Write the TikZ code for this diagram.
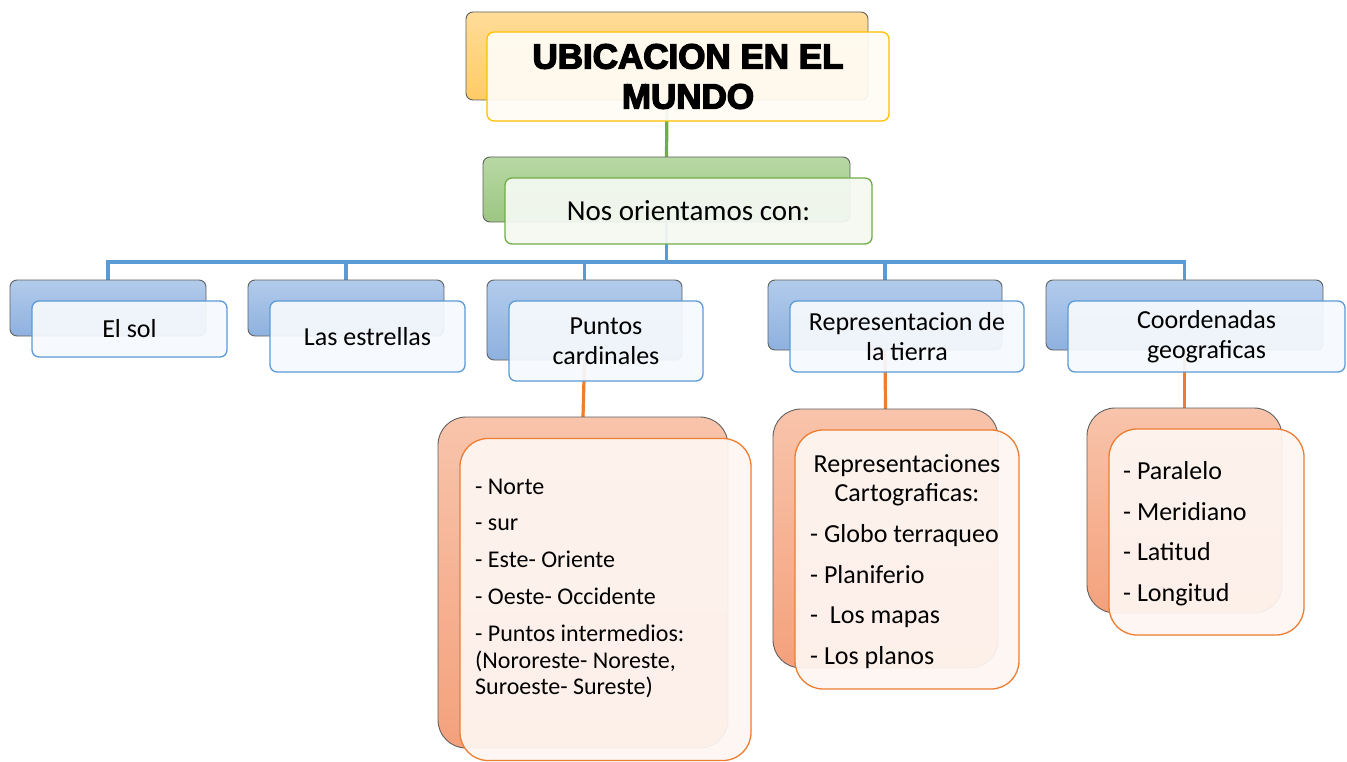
\documentclass[tikz,border=0pt]{standalone}
\usepackage{fontspec}
\setmainfont{Carlito}
\newfontfamily\titlefont{Liberation Sans}[BoldFeatures={FakeBold=4}]
\usetikzlibrary{backgrounds}
\definecolor{ttop}{HTML}{FFDC98}
\definecolor{tbot}{HTML}{FFCB66}
\definecolor{tline}{HTML}{FFC000}
\definecolor{tfill}{HTML}{FFFCF6}
\definecolor{gtop}{HTML}{B8D8A4}
\definecolor{gbot}{HTML}{9CC682}
\definecolor{gline}{HTML}{70AD47}
\definecolor{gfill}{HTML}{F5F9F2}
\definecolor{btop}{HTML}{B2CBEB}
\definecolor{bbot}{HTML}{8EB1DF}
\definecolor{bline}{HTML}{5B9BD5}
\definecolor{bfill}{HTML}{F6F9FD}
\definecolor{otop}{HTML}{F8C4AB}
\definecolor{obot}{HTML}{F4A17C}
\definecolor{oline}{HTML}{ED7D31}
\definecolor{ofill}{HTML}{FEF6F2}
\definecolor{backgray}{HTML}{606060}
\pgfdeclarelayer{backdrop}
\pgfdeclarelayer{links}
\pgfsetlayers{backdrop,links,main}
\tikzset{
  backbox/.style={draw=backgray, line width=0.9pt, rounded corners=7pt, inner sep=0pt, outer sep=0pt},
  frontbox/.style={line width=1.3pt, rounded corners=7pt, fill opacity=0.93, text opacity=1, align=center, inner sep=0pt, outer sep=0pt},
  titleback/.style={backbox, top color=ttop, bottom color=tbot},
  titlefront/.style={frontbox, draw=tline, fill=tfill, font=\titlefont\bfseries\fontsize{35}{40}\selectfont},
  greenback/.style={backbox, top color=gtop, bottom color=gbot},
  greenfront/.style={frontbox, draw=gline, fill=gfill, font=\fontsize{29}{32}\selectfont},
  blueback/.style={backbox, top color=btop, bottom color=bbot},
  bluefront/.style={frontbox, draw=bline, fill=bfill, font=\fontsize{26}{30}\selectfont},
  salmonback/.style={backbox, rounded corners=28pt, top color=otop, bottom color=obot},
  salmonfront/.style={frontbox, rounded corners=28pt, draw=oline, fill=ofill},
  itemA/.style={anchor=base west, inner sep=0pt, font=\fontsize{24}{27}\selectfont},
  itemB/.style={anchor=base west, inner sep=0pt, font=\fontsize{26}{29}\selectfont},
  itemBc/.style={anchor=base, inner sep=0pt, font=\fontsize{26}{29}\selectfont},
  bluelink/.style={draw=bline, line width=3.2pt},
  greenlink/.style={draw=gline, line width=3.2pt},
  orangelink/.style={draw=oline, line width=3.2pt},
}
\begin{document}
\begin{tikzpicture}[x=1pt,y=-1pt]
\begin{pgfonlayer}{backdrop}
\fill[white] (0,0) rectangle (1347,762);
\end{pgfonlayer}
\useasboundingbox (0,0) rectangle (1347,762);

% title
\node[titleback, minimum width=402pt, minimum height=88pt] (tb) at (667,56) {};
\node[titlefront, minimum width=402pt, minimum height=89pt] (tf) at (688,76.5) {UBICACION EN EL\\MUNDO};

% green
\node[greenback, minimum width=367pt, minimum height=65pt] (gb) at (666.5,189.5) {};
\node[greenfront, minimum width=367pt, minimum height=66pt] (gf) at (688.5,211) {Nos orientamos con:};

% blue row
\node[blueback, minimum width=196pt, minimum height=56pt] (b1b) at (108,308) {};
\node[bluefront, minimum width=195pt, minimum height=56pt] (b1f) at (129.5,329) {El sol};
\node[blueback, minimum width=196pt, minimum height=56pt] (b2b) at (346,308) {};
\node[bluefront, minimum width=195pt, minimum height=71pt] (b2f) at (367.5,336.5) {Las estrellas};
\node[blueback, minimum width=195pt, minimum height=80pt] (b3b) at (584.5,320) {};
\node[bluefront, minimum width=194pt, minimum height=80pt] (b3f) at (606,341) {Puntos\\cardinales};
\node[blueback, minimum width=234pt, minimum height=70pt] (b4b) at (885,315) {};
\node[bluefront, minimum width=234pt, minimum height=71pt] (b4f) at (907,336.5) {Representacion de\\la tierra};
\node[blueback, minimum width=277pt, minimum height=70pt] (b5b) at (1184.5,315) {};
\node[bluefront, minimum width=277pt, minimum height=71pt] (b5f) at (1206.5,336.5) {Coordenadas\\geograficas};

% salmon boxes
\node[salmonback, minimum width=290pt, minimum height=331pt] (oAb) at (583,582.5) {};
\node[salmonfront, minimum width=291pt, minimum height=322pt] (oAf) at (605.5,599.5) {};
\node[salmonback, minimum width=225pt, minimum height=259pt] (oBb) at (885.5,538.5) {};
\node[salmonfront, minimum width=224pt, minimum height=259pt] (oBf) at (907,559.5) {};
\node[salmonback, minimum width=195pt, minimum height=205pt] (oCb) at (1184.5,510.5) {};
\node[salmonfront, minimum width=195pt, minimum height=206pt] (oCf) at (1206.5,532) {};

% box A text
\node[itemA] (a1) at (475,494) {- Norte};
\node[itemA] (a2) at (475,530) {- sur};
\node[itemA] (a3) at (475,567) {- Este- Oriente};
\node[itemA] (a4) at (475,604) {- Oeste- Occidente};
\node[itemA] (a5) at (475,641) {- Puntos intermedios:};
\node[itemA] (a6) at (475,668) {(Nororeste- Noreste,};
\node[itemA] (a7) at (475,694) {Suroeste- Sureste)};

% box B text
\node[itemBc] (r1) at (907,472) {Representaciones};
\node[itemBc] (r2) at (907,501) {Cartograficas:};
\node[itemB] (r3) at (810,542) {- Globo terraqueo};
\node[itemB] (r4) at (810,583) {- Planiferio};
\node[itemB] (r5) at (810,623) {-\ \ Los mapas};
\node[itemB] (r6) at (810,664) {- Los planos};

% box C text
\node[itemB] (c1) at (1123,479) {- Paralelo};
\node[itemB] (c2) at (1123,520) {- Meridiano};
\node[itemB] (c3) at (1123,560) {- Latitud};
\node[itemB] (c4) at (1123,601) {- Longitud};

% connectors
\begin{pgfonlayer}{links}
\coordinate (hub) at (666.5,262);
\draw[greenlink] (tb.south) -- (gb.north);
\draw[bluelink] (gb.south) -- (hub);
\draw[bluelink] (hub) -| (b1b.north);
\draw[bluelink] (hub) -| (b2b.north);
\draw[bluelink] (hub) -| (b3b.north);
\draw[bluelink] (hub) -| (b4b.north);
\draw[bluelink] (hub) -| (b5b.north);
\draw[orangelink] (b3b.south) -- (oAb.north);
\draw[orangelink] (b4b.south) -- (oBb.north);
\draw[orangelink] (b5b.south) -- (oCb.north);
\end{pgfonlayer}
\end{tikzpicture}
\end{document}
